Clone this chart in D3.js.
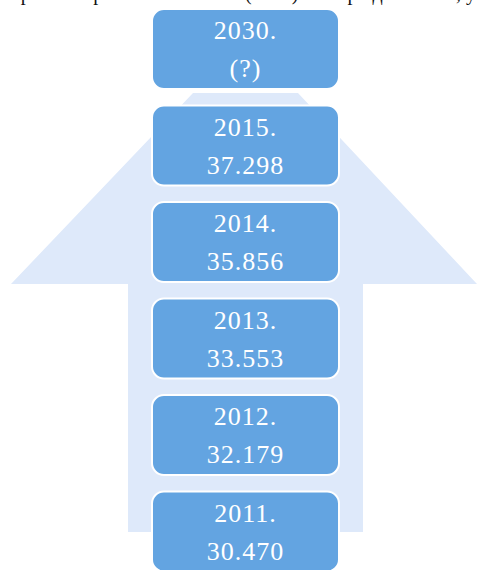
<!DOCTYPE html>
<html>
<head>
<meta charset="utf-8">
<script src="https://cdn.jsdelivr.net/npm/d3@7"></script>
<style>
  html, body { margin: 0; padding: 0; background: #fff; }
  svg { display: block; }
</style>
</head>
<body>
<svg id="chart"></svg>
<script>
// years from top to bottom, and the values shown under them
const years = ["2030", "2015", "2014", "2013", "2012", "2011"];
const values = ["(?)", "37.298", "35.856", "33.553", "32.179", "30.470"];

const width = 477, height = 570;

const svg = d3.select("#chart")
  .attr("width", width)
  .attr("height", height);

// cut-off line of the page text above the figure (only descenders show)
svg.append("text")
  .attr("x", 10)
  .attr("y", -0.5)
  .attr("font-family", "Liberation Serif, serif")
  .attr("font-size", 20)
  .attr("fill", "#111")
  .text("прогноз приємно виконано (2030) на період 2030 ми, у");

// box column: step of 96.5px, box height ~80px
const boxX = 152, boxW = 187, step = 96.5, pad = 0.17;
const y = d3.scaleBand()
  .domain(years)
  .range([9, 9 + step * (years.length - pad)])
  .paddingInner(pad)
  .paddingOuter(0);

// the big light arrow behind the boxes
const arrow = [
  [193, 93], [298, 93], [477, 284], [363, 284],
  [363, 532], [128, 532], [128, 284], [11, 284]
];
svg.append("path")
  .attr("d", d3.line()(arrow) + "Z")
  .attr("fill", "#dee9fa");

const g = svg.selectAll(".box")
  .data(years.map((yr, i) => ({ year: yr, value: values[i] })))
  .join("g")
  .attr("class", "box")
  .attr("transform", d => `translate(${boxX},${y(d.year)})`);

g.append("rect")
  .attr("width", boxW)
  .attr("height", y.bandwidth())
  .attr("rx", 12)
  .attr("fill", "#63a4e1")
  .attr("stroke", "#fff")
  .attr("stroke-width", 2);

g.append("text")
  .attr("x", boxW / 2)
  .attr("y", y.bandwidth() / 2 - 19)
  .attr("dy", "0.35em")
  .attr("text-anchor", "middle")
  .attr("font-family", "Liberation Serif, serif")
  .attr("font-size", 26)
  .attr("letter-spacing", 1)
  .attr("fill", "#fff")
  .text(d => d.year + ".");

g.append("text")
  .attr("x", boxW / 2)
  .attr("y", y.bandwidth() / 2 + 19)
  .attr("dy", "0.35em")
  .attr("text-anchor", "middle")
  .attr("font-family", "Liberation Serif, serif")
  .attr("font-size", 26)
  .attr("letter-spacing", 1)
  .attr("fill", "#fff")
  .text(d => d.value);
</script>
</body>
</html>
